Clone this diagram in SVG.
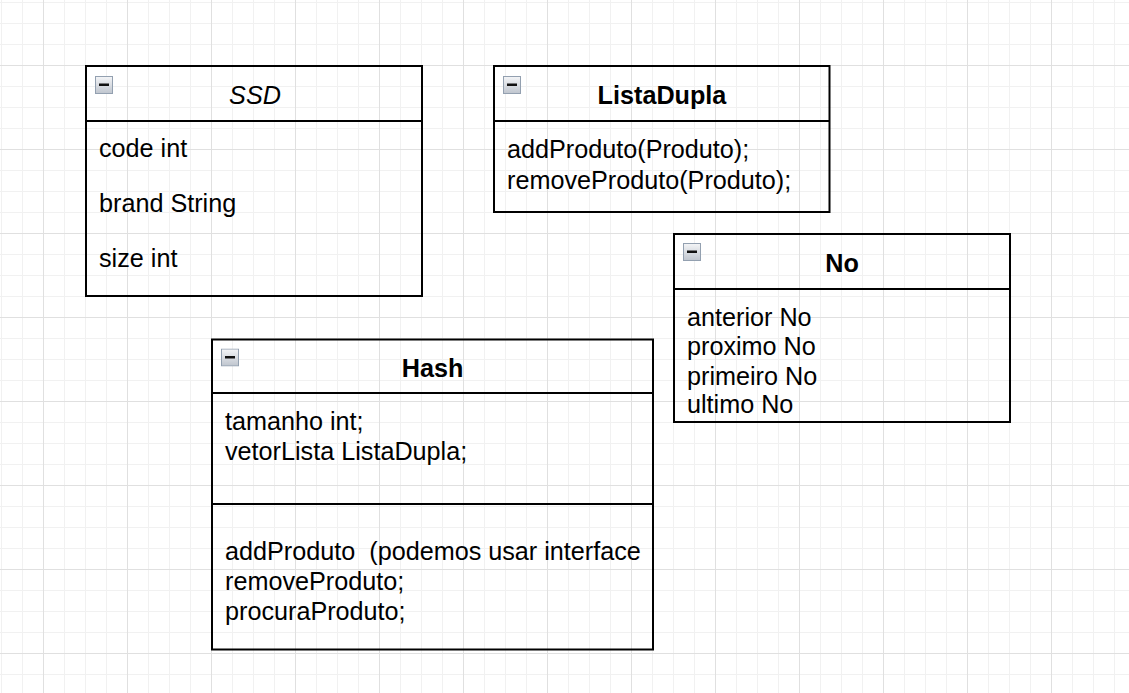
<svg xmlns="http://www.w3.org/2000/svg" width="1129" height="693" viewBox="0 0 1129 693">
<style>
.box{fill:none;stroke:#000;stroke-width:2}
.t{font-family:"Liberation Sans",Arial,sans-serif;font-size:25.2px;fill:#000}
.title{font-weight:bold;text-anchor:middle}
.ital{font-style:italic;text-anchor:middle}
</style>
<defs>
<pattern id="grid" patternUnits="userSpaceOnUse" x="1" y="2" width="84" height="84">
<g fill="#f1f1f1">
<rect x="0" y="0" width="1" height="84"/><rect x="21" y="0" width="1" height="84"/><rect x="63" y="0" width="1" height="84"/>
<rect x="0" y="0" width="84" height="1"/><rect x="0" y="21" width="84" height="1"/><rect x="0" y="42" width="84" height="1"/>
</g>
<g fill="#e0e0e0">
<rect x="42" y="0" width="1" height="84"/>
<rect x="0" y="63" width="84" height="1"/>
</g>
</pattern>
<linearGradient id="ig" x1="0" y1="0" x2="0" y2="1">
<stop offset="0" stop-color="#f4f5f7"/>
<stop offset="1" stop-color="#bfc5ce"/>
</linearGradient>
<symbol id="icon" viewBox="0 0 18 18" width="18" height="18">
<rect x="0.5" y="0.5" width="17" height="17" fill="url(#ig)" stroke="#93a0b0" stroke-width="1"/>
<rect x="4" y="7.5" width="10" height="2.5" fill="#111"/>
</symbol>
</defs>
<rect width="1129" height="693" fill="#fff"/>
<rect width="1129" height="693" fill="url(#grid)"/>
<g id="connectors"></g>
<g id="ssd">
<rect class="box" x="86" y="66" width="336" height="230"/>
<line class="box" x1="86" y1="121" x2="422" y2="121"/>
<use href="#icon" x="95" y="76"/>
<text class="t ital" x="255" y="103.5">SSD</text>
<text class="t" x="99" y="157">code int</text>
<text class="t" x="99" y="212">brand String</text>
<text class="t" x="99" y="266.5">size int</text>
</g>
<g id="listadupla">
<rect class="box" x="494" y="66" width="335.5" height="146"/>
<line class="box" x1="494" y1="121" x2="829.5" y2="121"/>
<use href="#icon" x="503" y="76"/>
<text class="t title" x="662" y="103.5">ListaDupla</text>
<text class="t" x="507" y="158">addProduto(Produto);</text>
<text class="t" x="507" y="188.5">removeProduto(Produto);</text>
</g>
<g id="no">
<rect class="box" x="674" y="234" width="336" height="188"/>
<line class="box" x1="674" y1="289" x2="1010" y2="289"/>
<use href="#icon" x="683" y="243"/>
<text class="t title" x="842" y="272">No</text>
<text class="t" x="687" y="325.5">anterior No</text>
<text class="t" x="687" y="355">proximo No</text>
<text class="t" x="687" y="384.5">primeiro No</text>
<text class="t" x="687" y="413">ultimo No</text>
</g>
<g id="hash">
<rect class="box" x="212" y="339.5" width="441" height="310"/>
<line class="box" x1="212" y1="393" x2="653" y2="393"/>
<line class="box" x1="212" y1="504" x2="653" y2="504"/>
<use href="#icon" x="221" y="348.5"/>
<text class="t title" x="432.5" y="377">Hash</text>
<text class="t" x="225" y="430">tamanho int;</text>
<text class="t" x="225" y="460">vetorLista ListaDupla;</text>
<text class="t" x="225" y="560" xml:space="preserve">addProduto  (podemos usar interface</text>
<text class="t" x="225" y="590">removeProduto;</text>
<text class="t" x="225" y="619.5">procuraProduto;</text>
</g>
</svg>
